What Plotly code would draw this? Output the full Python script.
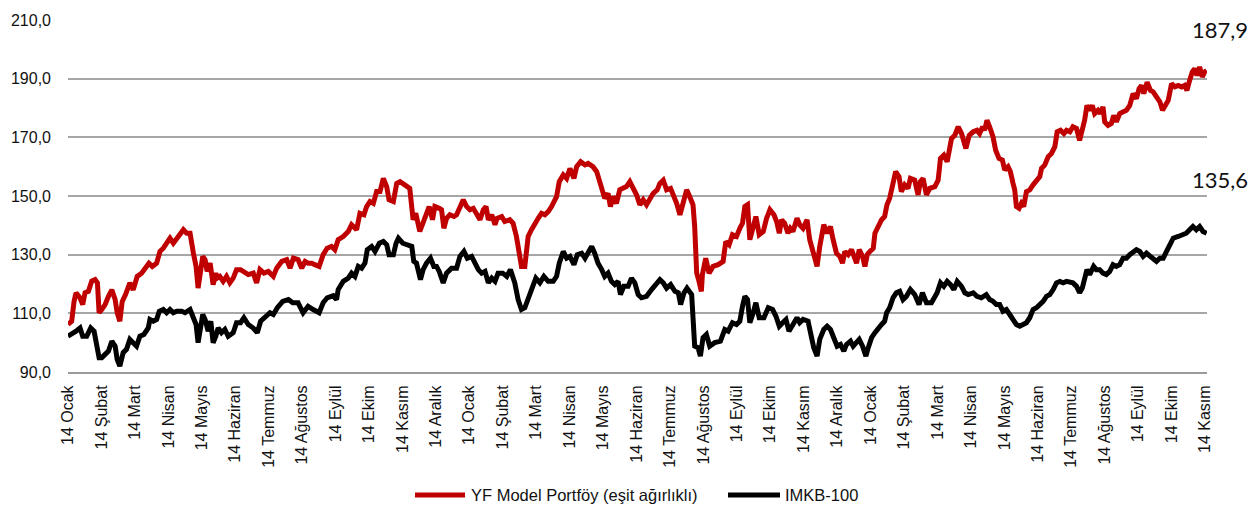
import plotly.graph_objects as go

# Month positions (0 = first "14 Ocak" tick, 34 = last "14 Kasım" tick)
tick_labels = [
    "14 Ocak", "14 Şubat", "14 Mart", "14 Nisan", "14 Mayıs", "14 Haziran",
    "14 Temmuz", "14 Ağustos", "14 Eylül", "14 Ekim", "14 Kasım", "14 Aralık",
    "14 Ocak", "14 Şubat", "14 Mart", "14 Nisan", "14 Mayıs", "14 Haziran",
    "14 Temmuz", "14 Ağustos", "14 Eylül", "14 Ekim", "14 Kasım", "14 Aralık",
    "14 Ocak", "14 Şubat", "14 Mart", "14 Nisan", "14 Mayıs", "14 Haziran",
    "14 Temmuz", "14 Ağustos", "14 Eylül", "14 Ekim", "14 Kasım",
]
tick_positions = list(range(len(tick_labels)))

yf_month = [
    0.0, 0.11, 0.18, 0.24, 0.36, 0.44, 0.51, 0.61, 0.71, 0.81, 0.88, 0.93, 1.01, 1.11, 1.21, 1.31,
    1.41, 1.47, 1.55, 1.62, 1.72, 1.85, 1.95, 2.07, 2.20, 2.32, 2.42, 2.52, 2.65, 2.75, 2.85, 2.95,
    3.05, 3.15, 3.25, 3.35, 3.45, 3.55, 3.65, 3.75, 3.83, 3.89, 3.95, 4.03, 4.10, 4.16, 4.25, 4.34,
    4.42, 4.46, 4.54, 4.64, 4.74, 4.84, 4.94, 5.04, 5.16, 5.39, 5.54, 5.64, 5.74, 5.86, 5.99, 6.14,
    6.24, 6.39, 6.54, 6.64, 6.74, 6.88, 6.99, 7.09, 7.18, 7.29, 7.38, 7.51, 7.63, 7.75, 7.88, 7.98,
    8.08, 8.23, 8.38, 8.48, 8.63, 8.73, 8.85, 8.93, 9.03, 9.13, 9.23, 9.33, 9.43, 9.53, 9.60, 9.73,
    9.83, 9.93, 10.07, 10.22, 10.32, 10.40, 10.52, 10.60, 10.72, 10.80, 10.90, 10.97, 11.10, 11.17,
    11.24, 11.32, 11.42, 11.54, 11.62, 11.72, 11.82, 11.92, 12.02, 12.12, 12.22, 12.32, 12.42, 12.50,
    12.57, 12.67, 12.77, 12.83, 12.97, 13.06, 13.21, 13.31, 13.41, 13.49, 13.56, 13.66, 13.76, 13.86,
    13.96, 14.06, 14.16, 14.26, 14.36, 14.46, 14.61, 14.69, 14.81, 14.91, 15.01, 15.13, 15.21, 15.33,
    15.46, 15.55, 15.70, 15.81, 15.90, 15.98, 16.05, 16.15, 16.22, 16.30, 16.40, 16.50, 16.60, 16.70,
    16.80, 16.90, 17.00, 17.10, 17.20, 17.30, 17.40, 17.50, 17.62, 17.70, 17.80, 17.90, 18.02, 18.10,
    18.20, 18.30, 18.39, 18.50, 18.59, 18.69, 18.74, 18.80, 18.87, 18.94, 18.97, 19.07, 19.17, 19.29,
    19.44, 19.59, 19.67, 19.77, 19.87, 19.99, 20.09, 20.17, 20.24, 20.32, 20.39, 20.47, 20.57, 20.67,
    20.79, 20.89, 20.99, 21.11, 21.19, 21.27, 21.34, 21.43, 21.53, 21.60, 21.68, 21.80, 21.88, 21.98,
    22.10, 22.18, 22.28, 22.40, 22.48, 22.60, 22.70, 22.80, 22.88, 22.98, 23.08, 23.16, 23.23, 23.33,
    23.43, 23.50, 23.58, 23.66, 23.76, 23.83, 23.90, 23.98, 24.08, 24.13, 24.22, 24.33, 24.42, 24.49,
    24.57, 24.67, 24.75, 24.85, 24.92, 25.02, 25.12, 25.19, 25.32, 25.42, 25.49, 25.57, 25.67, 25.77,
    25.92, 26.02, 26.09, 26.19, 26.29, 26.42, 26.52, 26.62, 26.72, 26.85, 26.95, 27.07, 27.18, 27.26,
    27.35, 27.41, 27.48, 27.56, 27.66, 27.74, 27.84, 27.94, 28.01, 28.11, 28.18, 28.26, 28.31, 28.36,
    28.44, 28.51, 28.58, 28.66, 28.76, 28.86, 28.96, 29.06, 29.11, 29.21, 29.31, 29.41, 29.51, 29.58,
    29.68, 29.78, 29.86, 29.96, 30.05, 30.16, 30.25, 30.33, 30.40, 30.47, 30.55, 30.63, 30.70, 30.80,
    30.87, 30.95, 31.00, 31.10, 31.20, 31.27, 31.35, 31.45, 31.55, 31.65, 31.75, 31.85, 31.95, 32.03,
    32.10, 32.17, 32.27, 32.37, 32.45, 32.55, 32.65, 32.73, 32.80, 32.90, 33.00, 33.10, 33.20, 33.30,
    33.39, 33.46, 33.54, 33.62, 33.69, 33.76, 33.84, 33.92, 33.99, 34.05,
]
yf_value = [
    106.2, 107.3, 114.0, 117.0, 115.3, 113.0, 117.0, 117.5, 121.0, 121.5, 120.4, 110.2, 111.3, 113.0, 115.8, 118.0,
    114.7, 110.2, 107.3, 114.0, 116.4, 120.4, 118.0, 122.6, 123.7, 125.4, 127.1, 126.0, 127.1, 131.1, 132.2, 133.9,
    135.6, 133.9, 135.6, 136.8, 138.5, 137.3, 137.3, 130.5, 126.0, 118.6, 123.7, 129.4, 128.3, 124.3, 127.1, 119.8,
    123.7, 122.0, 122.6, 120.9, 122.6, 120.4, 122.0, 124.9, 124.9, 123.2, 123.7, 120.4, 124.9, 123.7, 124.3, 122.6,
    125.4, 127.7, 128.3, 125.4, 128.8, 128.3, 125.4, 127.7, 127.1, 127.1, 126.6, 126.0, 130.0, 132.2, 132.8, 131.7,
    135.1, 136.2, 137.9, 140.2, 138.5, 144.1, 143.6, 146.4, 148.1, 147.5, 151.5, 151.5, 156.0, 153.2, 148.7, 148.1,
    154.3, 154.9, 153.8, 152.6, 141.9, 144.1, 137.9, 140.7, 143.6, 146.4, 141.9, 146.4, 145.8, 145.3,
    139.0, 142.4, 143.6, 143.0, 143.6, 146.4, 148.7, 146.4, 145.3, 145.8, 143.6, 141.9, 145.3, 146.4,
    141.9, 143.6, 140.2, 142.4, 143.0, 141.3, 141.9, 140.7, 136.2, 130.5, 126.0, 126.0, 136.2, 138.5,
    140.7, 142.4, 144.1, 143.6, 144.7, 146.4, 149.8, 154.9, 157.2, 156.0, 159.4, 156.0, 160.0, 161.7,
    160.6, 161.1, 160.0, 158.3, 154.9, 152.1, 149.2, 150.9, 146.4, 149.8, 147.5, 152.1, 152.6, 153.2,
    154.9, 152.6, 150.4, 147.0, 148.7, 147.0, 149.2, 150.9, 152.1, 154.3, 155.4, 152.1, 152.6, 150.4,
    147.5, 143.6, 147.5, 152.1, 149.8, 147.0, 139.6, 123.7, 120.9, 117.5, 123.2, 128.8, 123.7, 126.0,
    126.6, 127.7, 134.5, 133.4, 136.8, 136.2, 139.0, 140.7, 146.4, 147.0, 135.1, 138.5, 143.0, 136.8,
    137.9, 142.4, 145.3, 143.6, 141.3, 137.3, 141.9, 140.7, 137.3, 139.0, 137.9, 142.4, 140.2, 139.0,
    141.9, 135.1, 130.5, 126.0, 132.8, 140.2, 137.3, 139.6, 135.1, 130.5, 129.4, 127.1, 131.1, 130.0,
    131.7, 130.0, 127.1, 131.7, 129.4, 126.0, 130.0, 131.1, 132.2, 137.3, 139.6, 141.9, 143.0, 147.0,
    149.2, 154.9, 158.3, 156.6, 151.5, 153.8, 152.6, 156.0, 155.4, 150.4, 154.9, 156.0, 150.4, 152.6,
    153.2, 155.4, 162.8, 163.9, 161.7, 169.6, 170.7, 173.6, 171.3, 166.2, 170.7, 171.9, 172.4, 171.3,
    173.6, 172.4, 175.8, 173.6, 170.2, 165.6, 162.8, 162.3, 158.9, 160.0, 158.3, 154.3, 152.1, 146.4,
    145.8, 147.5, 146.4, 151.5, 152.1, 153.8, 155.5, 156.6, 159.4, 160.6, 163.4, 164.5, 166.8, 171.9,
    172.4, 171.3, 172.4, 171.9, 173.6, 173.0, 169.0, 171.9, 175.8, 180.9, 179.2, 180.9, 178.1, 179.2,
    178.1, 180.4, 175.3, 174.1, 174.7, 177.5, 175.3, 178.1, 178.7, 179.2, 180.9, 184.9, 183.2, 186.6,
    187.7, 184.9, 188.8, 186.0, 185.5, 183.8, 182.1, 179.2, 180.9, 182.6, 188.3, 187.2, 187.7, 187.2,
    187.7, 186.0, 189.4, 192.3, 193.4, 191.1, 194.0, 190.6, 192.3, 192.8,
]

imkb_month = [
    0.0, 0.11, 0.24, 0.36, 0.44, 0.56, 0.68, 0.78, 0.86, 0.93, 1.01, 1.11, 1.21, 1.31, 1.41, 1.47,
    1.55, 1.65, 1.75, 1.85, 1.95, 2.05, 2.15, 2.27, 2.40, 2.45, 2.55, 2.65, 2.73, 2.85, 2.95, 3.05,
    3.15, 3.25, 3.40, 3.50, 3.65, 3.75, 3.83, 3.89, 3.95, 4.03, 4.10, 4.19, 4.27, 4.34, 4.42, 4.49,
    4.59, 4.69, 4.79, 4.94, 5.04, 5.16, 5.26, 5.39, 5.54, 5.66, 5.76, 5.89, 6.04, 6.14, 6.26, 6.42,
    6.59, 6.72, 6.88, 7.03, 7.18, 7.33, 7.51, 7.63, 7.75, 7.93, 8.03, 8.08, 8.23, 8.38, 8.48, 8.58,
    8.68, 8.78, 8.88, 8.95, 9.08, 9.18, 9.31, 9.43, 9.53, 9.60, 9.73, 9.81, 9.88, 10.01, 10.13, 10.28,
    10.34, 10.42, 10.54, 10.62, 10.72, 10.84, 10.94, 11.02, 11.10, 11.22, 11.32, 11.47, 11.62, 11.72,
    11.84, 11.94, 12.07, 12.17, 12.27, 12.37, 12.47, 12.57, 12.67, 12.77, 12.86, 13.00, 13.12, 13.23,
    13.36, 13.46, 13.56, 13.66, 13.76, 13.86, 13.99, 14.11, 14.23, 14.36, 14.51, 14.61, 14.69, 14.81,
    14.91, 15.01, 15.13, 15.23, 15.36, 15.46, 15.55, 15.66, 15.75, 15.85, 15.96, 16.05, 16.15, 16.25,
    16.35, 16.45, 16.52, 16.62, 16.75, 16.85, 16.95, 17.05, 17.15, 17.30, 17.45, 17.60, 17.70, 17.80,
    17.90, 18.02, 18.15, 18.25, 18.32, 18.42, 18.51, 18.65, 18.69, 18.74, 18.84, 18.91, 18.99, 19.09,
    19.19, 19.34, 19.51, 19.64, 19.74, 19.87, 19.99, 20.09, 20.17, 20.24, 20.32, 20.39, 20.49, 20.57,
    20.67, 20.81, 20.94, 21.07, 21.17, 21.27, 21.37, 21.47, 21.56, 21.66, 21.80, 21.88, 21.98, 22.13,
    22.23, 22.30, 22.40, 22.48, 22.60, 22.70, 22.80, 22.90, 23.00, 23.10, 23.20, 23.28, 23.40, 23.48,
    23.56, 23.66, 23.76, 23.86, 23.93, 24.03, 24.13, 24.22, 24.33, 24.42, 24.48, 24.57, 24.67, 24.77,
    24.87, 24.97, 25.07, 25.19, 25.32, 25.45, 25.55, 25.67, 25.82, 25.99, 26.09, 26.19, 26.29, 26.39,
    26.49, 26.59, 26.72, 26.82, 26.92, 27.07, 27.18, 27.31, 27.46, 27.56, 27.66, 27.76, 27.86, 27.96,
    28.06, 28.16, 28.26, 28.36, 28.46, 28.56, 28.66, 28.76, 28.86, 28.96, 29.06, 29.16, 29.26, 29.36,
    29.46, 29.56, 29.66, 29.76, 29.86, 29.96, 30.05, 30.16, 30.25, 30.33, 30.40, 30.47, 30.55, 30.67,
    30.75, 30.85, 30.95, 31.05, 31.15, 31.25, 31.35, 31.45, 31.55, 31.65, 31.75, 31.85, 31.95, 32.05,
    32.15, 32.25, 32.35, 32.45, 32.55, 32.65, 32.75, 32.85, 32.95, 33.05, 33.20, 33.34, 33.44, 33.54,
    33.64, 33.74, 33.84, 33.94, 34.05,
]
imkb_value = [
    102.2, 102.8, 103.9, 105.0, 102.2, 102.2, 105.0, 103.9, 100.0, 94.9, 94.9, 96.0, 97.1, 100.5, 98.8, 94.3,
    92.0, 96.6, 97.7, 101.1, 100.0, 98.8, 102.2, 102.8, 105.0, 107.9, 107.3, 107.9, 110.7, 111.3, 110.2, 111.3,
    110.2, 110.7, 110.7, 110.2, 111.3, 108.5, 106.2, 100.0, 103.4, 109.6, 107.9, 103.9, 107.3, 100.0, 102.2, 105.0,
    103.4, 104.5, 102.2, 103.4, 106.8, 106.8, 108.5, 106.2, 105.0, 103.4, 107.3, 108.5, 110.2, 109.6, 111.9, 114.1,
    114.7, 113.6, 113.6, 110.2, 112.4, 111.3, 110.2, 113.6, 115.3, 116.0, 114.7, 118.1, 120.9, 122.0, 123.7, 122.6,
    126.0, 125.4, 127.1, 131.7, 132.8, 131.1, 133.9, 134.5, 133.4, 130.0, 130.0, 133.9, 135.6, 133.9, 133.4, 132.8,
    127.7, 127.1, 121.5, 124.9, 127.1, 128.8, 126.0, 126.0, 124.3, 120.4, 123.7, 125.4, 125.4, 129.4,
    131.1, 128.8, 129.4, 127.1, 124.9, 123.7, 124.3, 120.4, 122.0, 120.9, 123.7, 123.7, 122.6, 124.9,
    120.4, 114.7, 111.3, 111.9, 114.7, 117.5, 122.0, 120.4, 122.6, 120.9, 120.9, 122.6, 127.1, 131.1,
    128.8, 129.4, 126.6, 130.0, 130.5, 128.8, 130.5, 132.8, 130.5, 127.1, 124.9, 122.6, 123.7, 120.9,
    119.8, 120.9, 116.4, 119.2, 119.2, 122.0, 120.4, 116.4, 115.3, 115.8, 118.1, 119.8, 121.5, 120.4,
    118.6, 119.8, 117.5, 117.0, 113.0, 117.0, 118.6, 116.4, 109.0, 98.8, 98.3, 95.4, 101.7, 102.8,
    98.8, 100.0, 100.5, 104.5, 103.9, 106.8, 106.2, 107.3, 112.4, 115.8, 114.7, 106.8, 110.2, 113.6,
    108.5, 108.5, 111.9, 111.3, 109.0, 105.6, 106.8, 107.9, 103.9, 105.6, 108.5, 106.8, 107.9, 107.3,
    101.1, 98.3, 95.4, 101.1, 104.5, 105.6, 104.5, 101.7, 98.8, 99.4, 97.1, 99.4, 100.5, 98.8,
    100.0, 101.1, 98.8, 95.4, 98.3, 101.7, 103.4, 105.0, 106.2, 107.3, 110.2, 111.9, 115.3, 117.0,
    117.5, 114.7, 115.8, 118.1, 116.4, 113.0, 117.0, 113.6, 113.6, 117.0, 120.4, 119.2, 120.9, 119.8,
    118.1, 120.9, 119.2, 117.0, 116.4, 117.0, 115.8, 115.3, 116.4, 114.7, 114.1, 113.0, 113.0, 110.7,
    111.3, 109.6, 107.9, 106.2, 105.6, 106.2, 106.8, 108.5, 111.3, 111.9, 113.0, 114.1, 115.8, 116.4,
    118.1, 120.4, 120.9, 120.4, 120.9, 120.4, 120.4, 119.2, 117.0, 118.6, 121.5, 124.9, 123.2, 126.0,
    124.9, 124.9, 123.7, 123.2, 124.3, 126.6, 126.0, 126.6, 128.8, 128.8, 130.0, 131.1, 131.7, 131.1,
    129.4, 130.5, 129.4, 128.3, 127.7, 128.8, 128.8, 131.1, 133.9, 135.6, 136.2, 136.8, 137.3, 138.5,
    139.6, 138.5, 139.6, 137.9, 137.3,
]

series_names = ["YF Model Portföy (eşit ağırlıklı)", "IMKB-100"]
series_colors = ["#C00000", "#000000"]
end_labels = ["187,9", "135,6"]
end_label_values = [206.7, 155.5]

FONT = "Liberation Sans, Arial, sans-serif"
TXT = "#111111"

# The page body has an 8 px margin, so the figure is drawn 8 px smaller
# than the 1260x508 window and everything lines up with the window.
PAGE_OFF = 8
W, H = 1260 - PAGE_OFF, 508 - PAGE_OFF
L, R, T, B = 68 - PAGE_OFF, 53, 20 - PAGE_OFF, 136
PW, PH = W - L - R, H - T - B


def px_x(px):
    """window pixel x -> paper coordinate"""
    return (px - PAGE_OFF - L) / PW


def px_y(py):
    """window pixel y -> paper coordinate"""
    return (H - B - (py - PAGE_OFF)) / PH


fig = go.Figure()
fig.add_trace(go.Scatter(x=yf_month, y=yf_value, mode="lines", name=series_names[0],
                         line=dict(color=series_colors[0], width=5)))
fig.add_trace(go.Scatter(x=imkb_month, y=imkb_value, mode="lines", name=series_names[1],
                         line=dict(color=series_colors[1], width=5)))

# end-value labels at the right edge
for txt, val in zip(end_labels, end_label_values):
    fig.add_annotation(x=px_x(1220), y=val, text=txt, showarrow=False,
                       xref="paper", yref="y", xanchor="center", yanchor="middle",
                       font=dict(family="Lato, Open Sans, sans-serif", size=22, color=TXT))

# legend drawn below the axis labels (50 px line samples, as in the reference)
legend_y = px_y(495)
legend_items = [(415, 465, 469), (728, 780, 783)]
for (x0, x1, xt), name, col in zip(legend_items, series_names, series_colors):
    fig.add_shape(type="line", xref="paper", yref="paper",
                  x0=px_x(x0), x1=px_x(x1), y0=legend_y, y1=legend_y,
                  line=dict(color=col, width=5))
    fig.add_annotation(x=px_x(xt), y=legend_y, text=name, showarrow=False,
                       xref="paper", yref="paper", xanchor="left", yanchor="middle",
                       font=dict(family=FONT, size=16.5, color=TXT))

fig.update_layout(
    width=W, height=H,
    margin=dict(l=L, r=R, t=T, b=B, autoexpand=False),
    paper_bgcolor="white", plot_bgcolor="white",
    separators=",.",
    font=dict(family=FONT, size=16, color=TXT),
    showlegend=False,
    xaxis=dict(range=[0, 34.06], tickmode="array", tickvals=tick_positions, ticktext=tick_labels,
               tickangle=-90, showgrid=False, zeroline=False, showline=True, automargin=False,
               linecolor="#9A9A9A", linewidth=2, ticks="", ticklabelstandoff=5,
               tickfont=dict(family=FONT, size=16, color=TXT)),
    yaxis=dict(range=[90, 210], dtick=20, tick0=90, tickformat=".1f", automargin=False,
               showgrid=True, gridcolor="#A6A6A6", gridwidth=1.5, zeroline=False,
               showline=False, ticks="", ticklabelstandoff=16,
               tickfont=dict(family=FONT, size=16, color=TXT)),
)

fig.write_html("out.html")
